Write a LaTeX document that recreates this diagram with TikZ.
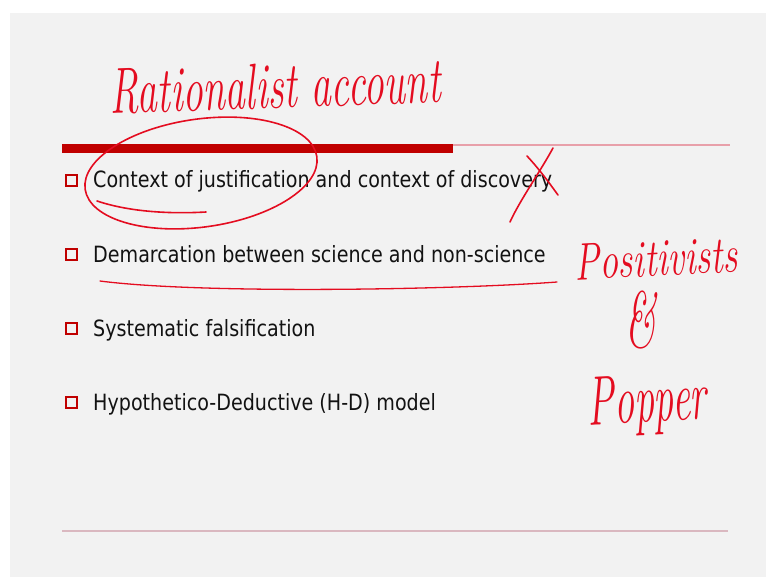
\documentclass[tikz,border=0pt]{standalone}
\usepackage{fontspec}
\newfontfamily\slidefont{DejaVu Sans}
\definecolor{slidebg}{RGB}{242,242,242}
\definecolor{bartone}{RGB}{192,0,0}
\definecolor{rulepink}{RGB}{232,160,170}
\definecolor{footrule}{RGB}{218,184,192}
\definecolor{ink}{RGB}{228,12,32}
\definecolor{bodytext}{RGB}{18,18,18}
\tikzset{
  item/.style={anchor=base west, inner sep=0pt, text=bodytext,
    font=\slidefont\fontsize{22.4}{26}\selectfont},
  bulletbox/.style={draw=bartone, line width=1.8pt, minimum size=10.5pt, inner sep=0pt},
  hand/.style={draw=ink, line width=1.6pt, line cap=round, line join=round},
  handtext/.style={text=ink, inner sep=0pt, anchor=base}
}
\newcommand{\itemtext}[1]{\scalebox{0.853}[1]{#1}}
\begin{document}
\begin{tikzpicture}[x=1pt,y=-1pt]
\useasboundingbox (0,0) rectangle (766,579);
\fill[white] (0,0) rectangle (766,579);
\fill[slidebg] (10,13) rectangle (766,577);

% title rules
\fill[bartone] (62,143.5) rectangle (453,152.5);
\draw[rulepink, line width=2pt] (453,144.5) -- (730,144.5);
% footer rule
\draw[footrule, line width=2.6pt] (62,531) -- (728,531);

% bullet list
\node[bulletbox] (b1) at (71.5,180.5) {};
\node[item] (t1) at (93,187) {\itemtext{Context of justification and context of discovery}};
\node[bulletbox] (b2) at (71.5,254.5) {};
\node[item] (t2) at (93,262) {\itemtext{Demarcation between science and non-science}};
\node[bulletbox] (b3) at (71.5,328.5) {};
\node[item] (t3) at (93,336) {\itemtext{Systematic falsification}};
\node[bulletbox] (b4) at (71.5,402.5) {};
\node[item] (t4) at (93,410) {\itemtext{Hypothetico-Deductive (H-D) model}};

% handwritten notes
\node[handtext, rotate=2, font=\itshape\fontsize{50}{50}\selectfont] (hw1) at (276,108)
  {\scalebox{0.81}[1.3]{Rationalist account}};
\node[handtext, rotate=3, font=\itshape\fontsize{44}{44}\selectfont] (hw2) at (657,276)
  {\scalebox{0.85}[1.2]{Positivists}};
\node[handtext, font=\itshape\fontsize{66}{66}\selectfont] (hw3) at (641,347)
  {\scalebox{0.62}[1.2]{\&}};
\node[handtext, rotate=3, font=\itshape\fontsize{50}{50}\selectfont] (hw4) at (648,422)
  {\scalebox{0.8}[1.4]{Popper}};

% circle round the first item
\draw[hand, rotate around={8:(201,173)}] (201,173) ellipse [x radius=117pt, y radius=54pt];
\draw[hand] (97,201) .. controls (130,212) and (170,214) .. (206,212);
% underline of the second item
\draw[hand, line width=1.3pt] (100,281) .. controls (200,294) and (450,290) .. (557,282);
% cross over "discovery"
\draw[hand] (510,222) .. controls (520,200) and (540,172) .. (553,148);
\draw[hand] (527,156) .. controls (540,170) and (550,184) .. (558,195);
\end{tikzpicture}
\end{document}
